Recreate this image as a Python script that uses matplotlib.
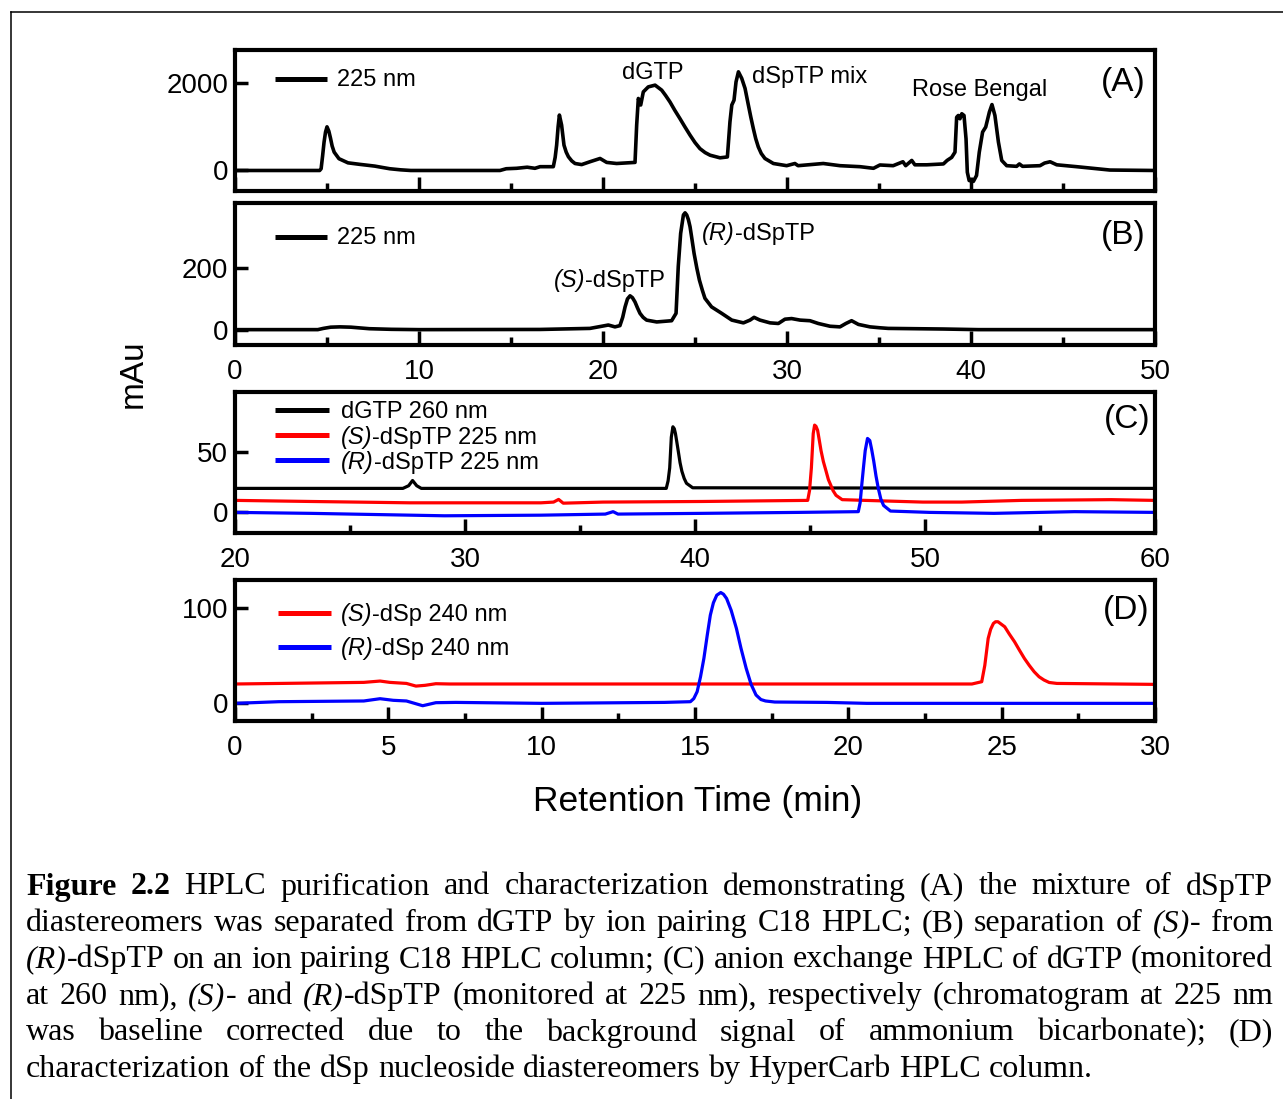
import re
import matplotlib
matplotlib.use("Agg")
import matplotlib.pyplot as plt
from matplotlib.lines import Line2D

# ---------------------------------------------------------------- data
# (A) ion-pairing C18 run of the crude mixture, 225 nm  (time min, mAu)
a_points = [
    (0.0, 0), (4.6, 0), (4.68, 40), (4.76, 330), (4.84, 650), (4.92, 880),
    (5.0, 1000), (5.1, 900), (5.19, 740), (5.28, 560), (5.39, 420), (5.65, 270),
    (6.14, 175), (6.79, 140), (7.2, 120), (7.6, 100), (8.0, 70), (8.41, 40),
    (9.0, 15), (9.55, 0), (14.4, 0), (14.74, 40), (15.3, 50), (15.88, 75),
    (16.3, 50), (16.58, 87), (17.3, 87), (17.4, 300), (17.48, 580),
    (17.56, 1000), (17.63, 1270), (17.75, 1040), (17.88, 580), (18.0, 420),
    (18.12, 315), (18.3, 220), (18.48, 160), (18.84, 135), (19.29, 200),
    (19.84, 275), (20.2, 185), (20.74, 160), (21.74, 185), (21.83, 1040),
    (21.92, 1650), (22.05, 1500), (22.19, 1800), (22.46, 1915), (22.83, 1955),
    (23.19, 1840), (23.4, 1720), (23.64, 1570), (23.9, 1380), (24.18, 1190),
    (24.45, 1000), (24.73, 810), (25.0, 640), (25.27, 500), (25.55, 410),
    (25.82, 350), (26.36, 290), (26.76, 310), (26.9, 1115), (27.0, 1500),
    (27.12, 1610), (27.23, 2030), (27.36, 2260), (27.54, 2110), (27.72, 1880),
    (27.9, 1500), (28.03, 1230), (28.17, 960), (28.3, 730), (28.44, 540),
    (28.6, 390), (28.8, 275), (29.26, 160), (29.98, 110), (30.43, 160),
    (30.6, 110), (31.97, 160), (32.88, 110), (33.97, 87), (34.7, 50),
    (35.05, 126), (35.77, 110), (36.3, 200), (36.45, 110), (36.78, 230),
    (36.95, 130), (37.6, 130), (38.5, 150), (38.7, 230), (38.95, 300),
    (39.13, 420), (39.22, 1220), (39.31, 1260), (39.4, 1185), (39.5, 1300),
    (39.62, 1260), (39.73, 725), (39.8, -40), (39.9, -230), (40.13, -250),
    (40.3, -115), (40.45, 420), (40.63, 880), (40.8, 995), (41.0, 1340),
    (41.14, 1510), (41.3, 1260), (41.49, 650), (41.67, 230), (41.94, 110),
    (42.48, 95), (42.63, 150), (42.8, 95), (43.75, 110), (44.0, 170),
    (44.3, 200), (44.66, 130), (45.74, 87), (47.55, 10), (50.0, 0),
]

# (B) separation of the two dSpTP diastereomers, 225 nm
b_points = [
    (0.0, 0), (4.5, 0), (4.8, 4), (5.2, 8), (5.7, 9), (6.3, 8), (7.3, 3),
    (8.5, 1), (10.0, 0), (16.58, 0.6), (19.29, 4), (19.93, 11), (20.29, 15),
    (20.65, 9), (20.92, 13), (21.07, 40), (21.2, 74), (21.33, 100),
    (21.47, 110), (21.6, 104), (21.74, 90), (21.88, 70), (22.01, 53),
    (22.18, 40), (22.37, 31), (22.92, 25), (23.73, 29), (23.97, 53),
    (24.09, 205), (24.22, 313), (24.37, 373), (24.46, 380), (24.55, 373),
    (24.64, 358), (24.73, 335), (24.84, 292), (24.95, 248), (25.1, 200),
    (25.24, 161), (25.4, 128), (25.54, 102), (25.9, 74), (26.45, 53),
    (27.0, 31), (27.63, 22), (27.99, 31), (28.21, 40), (28.53, 31), (29.08, 22),
    (29.53, 20), (29.89, 34), (30.25, 36), (30.71, 31), (31.25, 29),
    (31.7, 20), (32.34, 11), (32.88, 9), (33.2, 20), (33.51, 29), (33.88, 17),
    (34.51, 9), (35.05, 6), (35.5, 4), (38.5, 2), (40.4, 0), (50.0, 0),
]

# (C) anion exchange traces
c_dgtp_points = [
    (20.0, 19.8), (27.3, 19.8), (27.55, 22), (27.72, 26.3), (27.9, 22),
    (28.1, 19.8), (38.75, 19.8), (38.83, 26), (38.9, 36.7), (38.97, 62),
    (39.04, 70.6), (39.1, 69), (39.15, 65), (39.21, 58), (39.27, 50.8),
    (39.35, 41), (39.43, 33.9), (39.53, 28), (39.63, 24), (39.9, 20.3),
    (60.0, 19.8),
]
c_s_points = [
    (20.0, 9.9), (23.3, 9.0), (27.6, 7.9), (33.3, 7.9), (33.85, 8.5),
    (34.07, 10.7), (34.27, 7.6), (36.0, 8.5), (40.3, 9.0), (44.9, 9.9),
    (44.98, 18), (45.06, 36.7), (45.14, 65), (45.2, 72), (45.26, 71),
    (45.33, 67.8), (45.4, 60), (45.48, 50.9), (45.58, 42), (45.7, 33.9),
    (45.8, 27), (45.9, 22.6), (46.0, 18), (46.13, 14.1), (46.4, 10.5),
    (47.4, 9.9), (49.9, 8.5), (51.6, 8.5), (54.2, 9.9), (58.1, 10.5),
    (60.0, 9.9),
]
c_r_points = [
    (20.0, 0), (23.3, -0.8), (29.1, -2.8), (33.3, -2.3), (36.1, -1.4),
    (36.44, 0.6), (36.65, -1.4), (40.3, -0.8), (44.5, 0), (47.1, 0.6),
    (47.18, 8), (47.25, 22.6), (47.33, 38), (47.4, 50.9), (47.5, 61),
    (47.6, 59.3), (47.68, 52), (47.77, 42.4), (47.87, 30), (47.97, 19.8),
    (48.08, 11), (48.2, 5.7), (48.5, 1.1), (50.2, 0), (53.0, -0.8),
    (56.5, 0.6), (60.0, 0),
]

# (D) HyperCarb traces of the nucleosides, 240 nm
d_s_points = [
    (0.0, 20.4), (4.2, 22.1), (4.73, 23.5), (5.05, 22.1), (5.59, 21),
    (5.9, 18.2), (6.2, 19), (6.55, 20.7), (7.0, 20.4), (24.03, 20.4),
    (24.35, 22.8), (24.45, 40), (24.56, 68.4), (24.64, 78), (24.73, 84.2),
    (24.8, 86), (24.88, 86), (25.1, 80.7), (25.25, 73), (25.42, 64.9),
    (25.58, 56), (25.74, 47.4), (25.9, 40), (26.06, 33.3), (26.22, 28),
    (26.38, 24.6), (26.55, 22), (26.8, 21), (30.0, 20),
]
d_r_points = [
    (0.0, 0), (1.43, 1.75), (4.2, 2.5), (4.73, 4.9), (5.16, 3.2), (5.59, 2.5),
    (6.12, -2.5), (6.55, 0.7), (7.2, 1.0), (10.0, 0), (14.0, 1.0),
    (14.85, 1.75), (14.96, 5), (15.07, 12.3), (15.18, 28), (15.29, 47.4),
    (15.4, 72), (15.5, 93), (15.6, 106), (15.71, 114), (15.84, 116.8),
    (15.93, 115), (16.03, 110.5), (16.18, 98), (16.35, 79), (16.5, 58),
    (16.67, 36.8), (16.83, 20), (16.99, 8.8), (17.15, 4), (17.3, 2.5),
    (17.6, 1.4), (19.3, 1.0), (20.6, 0), (30.0, 0),
]

# tick values
ab_xticks = [0, 10, 20, 30, 40, 50]
ab_xminor = [5, 15, 25, 35, 45]
c_xticks = [20, 30, 40, 50, 60]
c_xminor = [25, 35, 45, 55]
d_xticks = [0, 5, 10, 15, 20, 25, 30]
d_xminor = [2.5, 7.5, 12.5, 17.5, 22.5, 27.5]
a_yticks = [0, 2000]
b_yticks = [0, 200]
c_yticks = [0, 50]
d_yticks = [0, 100]

# legend labels (segments: text, italic?)
a_legend = [[("225 nm", False)]]
b_legend = [[("225 nm", False)]]
c_legend = [[("dGTP 260 nm", False)],
            [("(S)", True), ("-dSpTP 225 nm", False)],
            [("(R)", True), ("-dSpTP 225 nm", False)]]
d_legend = [[("(S)", True), ("-dSp 240 nm", False)],
            [("(R)", True), ("-dSp 240 nm", False)]]

CAPTION_LINES = [
    "**Figure** **2.2** HPLC purification and characterization demonstrating (A) the mixture of dSpTP",
    "diastereomers was separated from dGTP by ion pairing C18 HPLC; (B) separation of *(S)*- from",
    "*(R)*-dSpTP on an ion pairing C18 HPLC column; (C) anion exchange HPLC of dGTP (monitored",
    "at 260 nm), *(S)*- and *(R)*-dSpTP (monitored at 225 nm), respectively (chromatogram at 225 nm",
    "was baseline corrected due to the background signal of ammonium bicarbonate); (D)",
    "characterization of the dSp nucleoside diastereomers by HyperCarb HPLC column.",
]

# ---------------------------------------------------------------- figure
W, H, DPI = 1283, 1099, 100
SANS = ["Liberation Sans", "DejaVu Sans"]
SERIF = ["Liberation Serif", "DejaVu Serif"]
plt.rcParams["font.family"] = SANS

RED, BLUE, BLACK = "#ff0000", "#0000ff", "#000000"

fig = plt.figure(figsize=(W / DPI, H / DPI), dpi=DPI)
renderer = fig.canvas.get_renderer()


def fx(x):
    return x / W


def fy(y):
    return 1 - y / H


def add_panel(left, top, right, bottom):
    return fig.add_axes([fx(left), fy(bottom), (right - left) / W, (bottom - top) / H])


def style_panel(ax, xlim, ylim, xmajor, xminor, yticks, xlabels=True):
    ax.set_xlim(*xlim)
    ax.set_ylim(*ylim)
    for sp in ax.spines.values():
        sp.set_linewidth(3)
    ax.set_xticks(xmajor)
    ax.set_xticks(xminor, minor=True)
    ax.set_yticks(yticks)
    ax.tick_params(axis="x", which="major", direction="in", length=10, width=2.5,
                   labelsize=20, pad=10, labelbottom=xlabels)
    ax.tick_params(axis="x", which="minor", direction="in", length=5.5, width=2.5)
    ax.tick_params(axis="y", which="major", direction="in", length=9, width=2.5,
                   labelsize=20, pad=5)
    ax.tick_params(axis="y", which="minor", left=False)


def trace(ax, points, color, lw):
    t, v = zip(*points)
    ax.plot(t, v, color=color, lw=lw, solid_joinstyle="round", solid_capstyle="round")


def text_width(s, size, family, style="normal", weight="normal"):
    t = fig.text(0, 0, s, fontsize=size, family=family, style=style, weight=weight)
    w = t.get_window_extent(renderer).width
    t.remove()
    return w


def rich(x, y, segs, size, family=SANS, va="baseline"):
    cur = x
    for s, italic in segs:
        t = fig.text(fx(cur), fy(y), s, fontsize=size, family=family,
                     style="italic" if italic else "normal", va=va, ha="left")
        cur += t.get_window_extent(renderer).width
    return cur


def legend_rows(x0, x1, xt, rows, labels, colors, size=17):
    for (yl, yb), segs, c in zip(rows, labels, colors):
        fig.add_artist(Line2D([fx(x0), fx(x1)], [fy(yl), fy(yl)],
                              transform=fig.transFigure, lw=3.6, color=c,
                              solid_capstyle="butt"))
        rich(xt, yb, segs, size)


# panel A
axA = add_panel(235, 50, 1155, 191)
style_panel(axA, (0, 50), (-470, 2760), ab_xticks, ab_xminor, a_yticks, xlabels=False)
trace(axA, a_points, BLACK, 2.6)
legend_rows(275, 327, 337, [(79, 86.5)], a_legend, [BLACK])
rich(622, 79, [("dGTP", False)], 17)
rich(752, 83, [("dSpTP mix", False)], 17)
rich(912, 96, [("Rose Bengal", False)], 17)
rich(1101, 91, [("(A)", False)], 24)

# panel B
axB = add_panel(235, 203, 1155, 345)
style_panel(axB, (0, 50), (-50, 412), ab_xticks, ab_xminor, b_yticks)
trace(axB, b_points, BLACK, 2.6)
legend_rows(275, 327, 337, [(237, 244.5)], b_legend, [BLACK])
rich(702, 240, [("(R)", True), ("-dSpTP", False)], 17)
rich(554, 287, [("(S)", True), ("-dSpTP", False)], 17)
rich(1101, 244, [("(B)", False)], 24)

# panel C
axC = add_panel(235, 392, 1155, 533)
style_panel(axC, (20, 60), (-17, 99.3), c_xticks, c_xminor, c_yticks)
trace(axC, c_dgtp_points, BLACK, 2.3)
trace(axC, c_s_points, RED, 2.3)
trace(axC, c_r_points, BLUE, 2.3)
legend_rows(275, 329, 341, [(410, 418), (435, 444), (460, 469)], c_legend,
            [BLACK, RED, BLUE])
rich(1104, 428, [("(C)", False)], 24)

# panel D
axD = add_panel(235, 580, 1155, 721)
style_panel(axD, (0, 30), (-18.6, 130), d_xticks, d_xminor, d_yticks)
trace(axD, d_s_points, RED, 2.3)
trace(axD, d_r_points, BLUE, 2.3)
legend_rows(278, 331, 341, [(613, 620.5), (647, 655.5)], d_legend, [RED, BLUE])
rich(1103, 619, [("(D)", False)], 24)

# shared axis titles
fig.text(fx(133), fy(374), "mAu", rotation=90, fontsize=24, ha="center", va="center")
fig.text(fx(698), fy(802), "Retention Time (min)", fontsize=25.5, ha="center", va="center")

# frame around figure and caption
fig.add_artist(Line2D([fx(10.5), fx(10.5)], [fy(11.5), 0], transform=fig.transFigure,
                      lw=1.1, color=BLACK))
fig.add_artist(Line2D([fx(10.5), 1], [fy(11.5), fy(11.5)], transform=fig.transFigure,
                      lw=1.1, color=BLACK))

# justified caption
CAP_SIZE = 23
CAP_LEFT, CAP_RIGHT = 26, 1273
CAP_TOP, CAP_STEP = 894.5, 36.5


def parse_word(word):
    segs = []
    for part in re.split(r"(\*\*.+?\*\*|\*.+?\*)", word):
        if not part:
            continue
        if part.startswith("**"):
            segs.append((part[2:-2], "normal", "bold"))
        elif part.startswith("*"):
            segs.append((part[1:-1], "italic", "normal"))
        else:
            segs.append((part, "normal", "normal"))
    return segs


space_w = text_width("a a", CAP_SIZE, SERIF) - text_width("aa", CAP_SIZE, SERIF)
for i, line in enumerate(CAPTION_LINES):
    words = [parse_word(w) for w in line.split(" ")]
    widths = [[text_width(s, CAP_SIZE, SERIF, st, wt) for s, st, wt in wd] for wd in words]
    total = sum(sum(w) for w in widths)
    last = i == len(CAPTION_LINES) - 1
    gap = space_w if last else (CAP_RIGHT - CAP_LEFT - total) / (len(words) - 1)
    x = CAP_LEFT
    y = CAP_TOP + i * CAP_STEP
    for wd, ws in zip(words, widths):
        for (s, st, wt), w in zip(wd, ws):
            fig.text(fx(x), fy(y), s, fontsize=CAP_SIZE, family=SERIF, style=st,
                     weight=wt, va="baseline", ha="left")
            x += w
        x += gap

fig.savefig("out.png", dpi=DPI)
